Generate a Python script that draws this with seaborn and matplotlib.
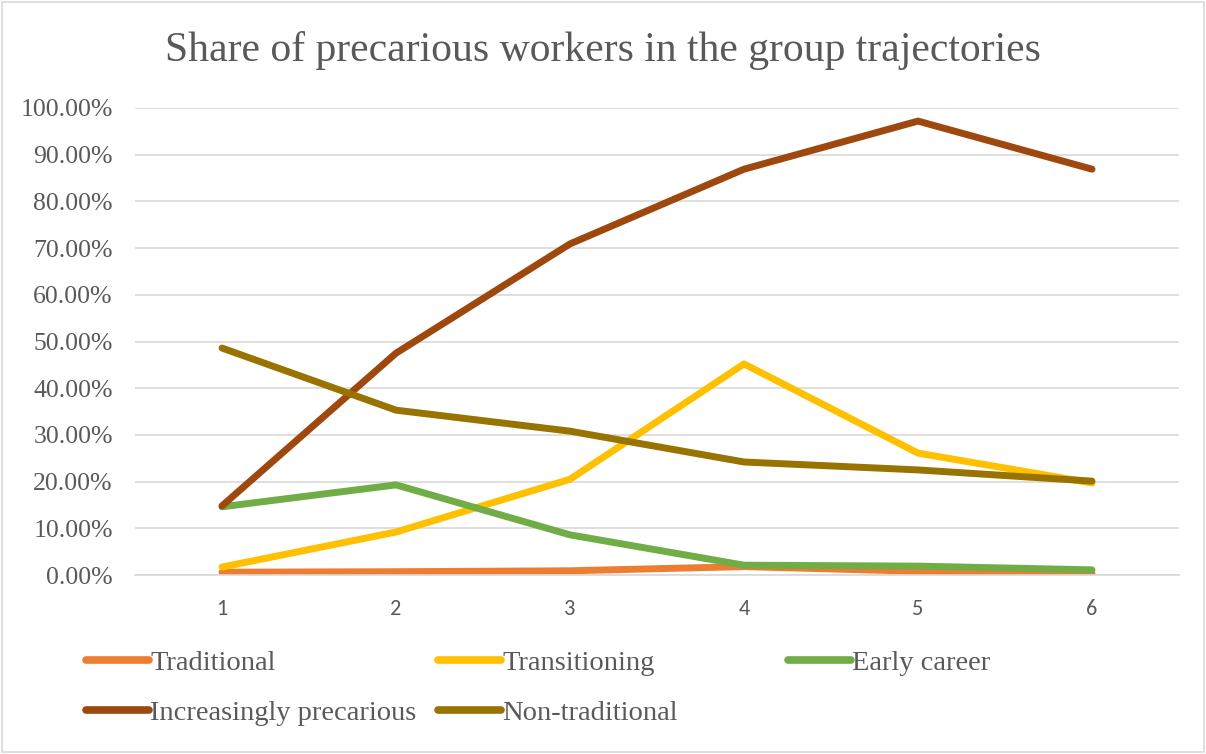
import numpy as np
import pandas as pd
import matplotlib
matplotlib.use("Agg")
import matplotlib.pyplot as plt
import seaborn as sns
from matplotlib.ticker import FuncFormatter

# Datos (proporción de trabajadores precarios)
periodos = [1, 2, 3, 4, 5, 6]
tradicional = [0.006, 0.007, 0.009, 0.018, 0.008, 0.004]
transicion = [0.017, 0.092, 0.205, 0.452, 0.261, 0.197]
inicio_carrera = [0.146, 0.193, 0.086, 0.021, 0.019, 0.011]
cada_vez_precario = [0.148, 0.475, 0.709, 0.869, 0.972, 0.869]
no_tradicional = [0.486, 0.353, 0.308, 0.242, 0.225, 0.201]

nombres = ["Traditional", "Transitioning", "Early career",
           "Increasingly precarious", "Non-traditional"]
colores = ["#ED7D31", "#FFC000", "#70AD47", "#9E480E", "#997300"]

df = pd.DataFrame({
    "periodo": periodos * 5,
    "valor": tradicional + transicion + inicio_carrera + cada_vez_precario + no_tradicional,
    "grupo": [n for n in nombres for _ in periodos],
})

sns.set_style("white")
plt.rcParams['font.family'] = ['Liberation Serif', 'DejaVu Serif']

fig = plt.figure(figsize=(12.06, 7.54), dpi=100)
ax = fig.add_axes([135 / 1206, 1 - 575 / 754, (1179 - 135) / 1206, (575 - 108) / 754])

sns.lineplot(data=df, x="periodo", y="valor", hue="grupo", hue_order=nombres,
             palette=colores, linewidth=5, ax=ax, legend=False,
             solid_capstyle="round", solid_joinstyle="round")

ax.set_xlim(0.5, 6.5)
ax.set_ylim(0, 1.0)
ax.set_yticks(np.arange(0, 1.01, 0.1))
ax.yaxis.set_major_formatter(FuncFormatter(lambda v, p: f"{v * 100:.2f}%"))
ax.set_xticks(periodos)
ax.set_xlabel("")
ax.set_ylabel("")
ax.grid(axis="y", color="#d9d9d9", linewidth=1.2)
ax.set_axisbelow(True)
for s in ["top", "right", "left"]:
    ax.spines[s].set_visible(False)
ax.spines["bottom"].set_color("#d9d9d9")
ax.spines["bottom"].set_linewidth(1.2)
ax.tick_params(axis="y", length=0, pad=16, labelsize=18.5, labelcolor="#595959")
ax.tick_params(axis="x", length=0, pad=17, labelcolor="#595959")
for lbl in ax.get_xticklabels():
    lbl.set_fontfamily(["Carlito", "Liberation Sans", "DejaVu Sans"])
    lbl.set_fontsize(16)

fig.text(0.5, 1 - 50 / 754, "Share of precarious workers in the group trajectories",
         ha="center", va="center", fontsize=30, color="#595959")

# Leyenda: tres columnas colocadas a mano
columnas = [[0, 3], [1, 4], [2]]
x_col = [86, 438, 788]
for idx, xc in zip(columnas, x_col):
    handles = [plt.Line2D([], [], color=colores[i], linewidth=5.5, solid_capstyle="round")
               for i in idx]
    fig.legend(handles, [nombres[i] for i in idx], loc="upper left",
               bbox_to_anchor=(xc / 1206, 1 - 650 / 754), frameon=False,
               fontsize=20.5, labelcolor="#595959", handlelength=2.2,
               handletextpad=0.05, labelspacing=0.85, borderpad=0, borderaxespad=0)

# Borde del gráfico
fig.patches.append(plt.Rectangle((0.002, 0.002), 0.996, 0.996, transform=fig.transFigure,
                                 fill=False, edgecolor="#d9d9d9", linewidth=1.2))

fig.savefig("out.png", dpi=100)
plt.close()
